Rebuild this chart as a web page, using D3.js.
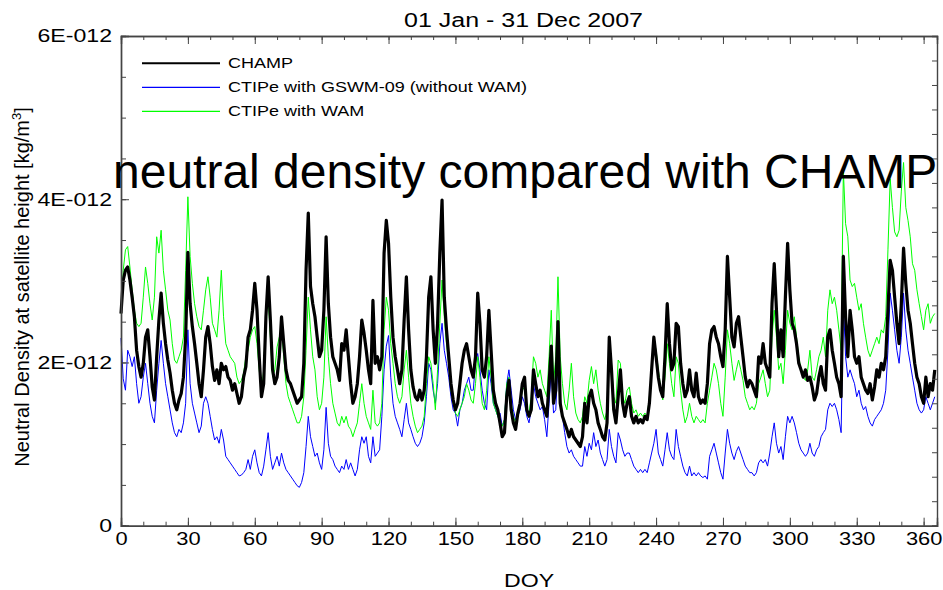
<!DOCTYPE html>
<html>
<head>
<meta charset="utf-8">
<script src="https://cdn.jsdelivr.net/npm/d3@7"></script>
<style>
  body { margin: 0; background: #fff; }
  text { font-family: "Liberation Sans", Arial, sans-serif; fill: #000; }
</style>
</head>
<body>
<svg id="chart" width="943" height="590"></svg>
<script>
// daily mean neutral density, units of 1E-012 kg/m3, DOY 0..365
var champ = [
  2.60, 3.01, 3.13, 3.17, 3.01, 2.80, 2.56, 2.15, 1.95, 1.82,
  1.99, 2.31, 2.40, 2.07, 1.70, 1.54, 2.07, 2.52, 2.85, 2.48,
  2.23, 2.03, 1.87, 1.66, 1.50, 1.42, 1.54, 1.62, 1.82, 2.31,
  3.35, 2.72, 2.44, 2.23, 1.99, 1.74, 1.58, 1.91, 2.31, 2.44,
  2.23, 1.95, 1.78, 1.91, 1.74, 1.99, 1.91, 1.95, 1.82, 1.78,
  1.66, 1.74, 1.62, 1.50, 1.58, 1.82, 1.95, 2.31, 2.40, 2.64,
  2.97, 2.64, 2.07, 1.58, 1.74, 2.56, 3.05, 2.52, 1.91, 1.74,
  1.82, 2.07, 2.56, 2.23, 1.91, 1.78, 1.74, 1.66, 1.58, 1.50,
  1.54, 1.58, 1.99, 3.13, 3.83, 2.93, 2.72, 2.56, 2.31, 2.07,
  2.15, 2.64, 3.54, 2.72, 2.31, 2.07, 1.99, 1.91, 1.78, 2.23,
  2.15, 2.40, 2.07, 1.74, 1.50, 1.58, 1.74, 2.07, 2.52, 2.36,
  2.15, 1.91, 1.74, 2.76, 1.99, 2.07, 1.91, 2.07, 3.34, 3.74,
  3.46, 2.80, 2.31, 2.07, 1.91, 1.74, 1.91, 2.52, 3.05, 2.40,
  1.91, 1.70, 1.58, 1.54, 1.66, 1.54, 1.66, 2.07, 2.80, 3.05,
  2.40, 1.99, 2.48, 3.34, 3.99, 2.80, 2.40, 2.07, 1.74, 1.54,
  1.42, 1.50, 1.74, 1.99, 2.15, 2.23, 2.07, 1.91, 1.82, 2.07,
  2.85, 2.48, 1.91, 1.82, 2.07, 2.64, 2.15, 1.66, 1.50, 1.42,
  1.26, 1.09, 1.14, 1.58, 1.78, 1.42, 1.26, 1.18, 1.38, 1.50,
  1.74, 1.82, 1.42, 1.34, 1.42, 1.91, 1.74, 1.58, 1.66, 1.50,
  1.42, 1.34, 1.74, 2.20, 1.50, 1.66, 2.50, 1.50, 1.34, 1.26,
  1.18, 1.09, 1.18, 1.09, 1.05, 1.01, 0.97, 1.09, 1.50, 1.26,
  1.58, 1.66, 1.50, 1.42, 1.26, 1.18, 1.09, 1.05, 1.26, 2.31,
  1.91, 1.42, 1.26, 1.58, 1.91, 1.50, 1.34, 1.50, 1.58, 1.34,
  1.26, 1.34, 1.26, 1.30, 1.26, 1.34, 1.30, 1.50, 1.91, 2.31,
  2.07, 1.82, 1.66, 1.58, 2.07, 2.72, 2.23, 1.91, 1.99, 2.48,
  2.44, 1.99, 1.74, 1.58, 1.66, 1.91, 1.66, 1.58, 1.87, 1.58,
  1.50, 1.54, 1.50, 1.74, 2.23, 2.40, 2.44, 2.31, 2.23, 2.07,
  1.95, 2.40, 3.30, 2.80, 2.31, 2.19, 2.48, 2.56, 2.31, 2.07,
  1.82, 1.70, 1.78, 1.74, 1.66, 1.58, 2.07, 1.99, 2.23, 1.99,
  1.91, 1.82, 2.72, 3.21, 2.64, 2.07, 2.40, 2.07, 2.80, 3.46,
  2.89, 2.48, 2.40, 2.23, 1.99, 1.91, 1.82, 1.91, 1.78, 1.82,
  1.70, 1.54, 1.62, 1.82, 1.95, 1.74, 1.66, 2.31, 2.40, 2.15,
  1.99, 1.82, 1.74, 1.58, 3.30, 2.56, 2.07, 2.64, 2.40, 2.07,
  1.99, 2.07, 1.82, 1.74, 1.66, 1.62, 1.74, 1.54, 1.70, 1.91,
  1.82, 1.99, 1.91, 2.07, 2.64, 3.25, 3.13, 2.80, 2.48, 2.23,
  2.72, 3.40, 2.97, 2.64, 2.48, 2.23, 1.99, 1.82, 1.74, 1.58,
  1.50, 1.82, 1.58, 1.74, 1.66, 1.91
];

var gswm = [
  2.30, 1.80, 1.66, 2.15, 2.07, 1.95, 2.07, 1.74, 1.50, 1.58,
  1.82, 1.99, 1.74, 1.50, 1.34, 1.26, 1.66, 1.99, 2.27, 1.99,
  1.74, 1.58, 1.42, 1.26, 1.14, 1.09, 1.18, 1.14, 1.26, 1.50,
  2.40, 1.74, 1.50, 1.38, 1.26, 1.14, 1.22, 1.50, 1.58, 1.50,
  1.34, 1.18, 1.05, 1.09, 1.01, 1.18, 1.05, 0.85, 0.81, 0.77,
  0.73, 0.69, 0.65, 0.61, 0.62, 0.65, 0.69, 0.81, 0.69, 0.85,
  0.93, 0.77, 0.65, 0.61, 0.73, 0.93, 1.14, 0.85, 0.69, 0.77,
  0.85, 0.73, 0.89, 0.77, 0.69, 0.65, 0.61, 0.57, 0.53, 0.49,
  0.47, 0.53, 0.65, 0.97, 1.34, 1.09, 0.97, 0.85, 0.89, 0.77,
  0.69, 0.93, 1.45, 1.01, 0.85, 0.81, 0.73, 0.69, 0.65, 0.73,
  0.69, 0.81, 0.69, 0.77, 0.69, 0.61, 0.69, 0.93, 1.09, 1.01,
  1.09, 0.85, 0.77, 1.09, 0.85, 0.89, 0.93, 1.34, 1.91, 2.20,
  2.33, 1.82, 1.50, 1.34, 1.26, 1.18, 1.09, 1.30, 1.50, 1.26,
  1.18, 1.09, 1.01, 0.97, 1.01, 1.09, 1.26, 1.58, 1.99, 1.91,
  1.66, 1.50, 1.74, 2.23, 2.48, 2.15, 1.99, 1.82, 1.58, 1.42,
  1.38, 1.22, 1.42, 1.50, 1.66, 1.74, 1.82, 1.66, 1.66, 1.99,
  2.11, 1.91, 1.66, 1.50, 1.42, 1.91, 1.74, 1.50, 1.42, 1.34,
  1.38, 1.22, 1.30, 1.74, 1.91, 1.66, 1.42, 1.30, 1.34, 1.42,
  1.58, 1.50, 1.34, 1.26, 1.42, 1.74, 1.58, 1.50, 1.42, 1.46,
  1.30, 1.09, 1.50, 1.91, 1.38, 1.42, 1.99, 1.58, 1.34, 1.14,
  0.97, 0.89, 0.93, 0.85, 0.81, 0.77, 0.73, 0.73, 0.97, 0.85,
  1.01, 0.93, 1.14, 0.97, 1.05, 0.89, 0.81, 0.73, 0.81, 1.18,
  0.97, 0.85, 0.77, 1.14, 1.05, 0.93, 0.85, 0.89, 0.89, 0.81,
  0.73, 0.69, 0.65, 0.69, 0.65, 0.69, 0.65, 0.77, 0.89, 1.01,
  1.18, 0.89, 0.81, 0.73, 0.93, 1.14, 0.93, 0.85, 0.81, 1.18,
  0.97, 0.85, 0.73, 0.65, 0.61, 0.73, 0.61, 0.65, 0.61, 0.65,
  0.61, 0.59, 0.61, 0.57, 0.85, 0.93, 1.01, 0.89, 0.77, 0.65,
  0.57, 0.89, 1.18, 1.01, 0.89, 0.81, 0.91, 0.97, 0.89, 0.81,
  0.73, 0.69, 0.65, 0.65, 0.61, 0.65, 0.77, 0.81, 0.77, 0.81,
  0.73, 0.89, 1.09, 1.26, 1.01, 0.89, 0.97, 0.81, 1.09, 1.34,
  1.26, 1.34, 1.26, 1.14, 1.01, 0.93, 0.89, 0.85, 0.89, 1.01,
  0.89, 0.85, 0.93, 0.97, 1.09, 1.14, 1.18, 1.42, 1.50, 1.46,
  1.50, 1.42, 1.30, 1.14, 2.76, 2.07, 1.82, 1.91, 1.82, 1.74,
  1.58, 1.66, 1.50, 1.42, 1.46, 1.34, 1.26, 1.22, 1.30, 1.34,
  1.38, 1.42, 1.50, 1.66, 2.15, 2.85, 2.64, 2.40, 2.15, 1.99,
  2.31, 2.85, 2.40, 2.15, 1.99, 1.82, 1.66, 1.50, 1.42, 1.38,
  1.42, 1.58, 1.50, 1.42, 1.50, 1.58
];

var wam = [
  2.60, 3.13, 3.38, 3.42, 3.17, 2.89, 2.64, 2.48, 2.44, 2.48,
  2.80, 3.17, 2.97, 2.72, 2.52, 2.80, 3.54, 3.34, 3.62, 3.13,
  2.89, 2.64, 2.52, 2.23, 2.03, 1.99, 2.07, 2.15, 2.31, 3.13,
  4.03, 3.30, 2.97, 2.72, 2.56, 2.44, 2.40, 2.64, 2.89, 3.05,
  2.80, 2.48, 2.40, 2.31, 2.64, 3.13, 2.56, 2.23, 2.15, 2.07,
  2.03, 1.99, 1.82, 1.74, 1.78, 1.87, 2.07, 2.15, 2.31, 2.40,
  2.44, 2.23, 1.91, 1.62, 1.91, 2.64, 2.80, 2.31, 1.82, 1.91,
  2.19, 2.31, 2.40, 2.07, 1.74, 1.58, 1.50, 1.42, 1.34, 1.26,
  1.26, 1.34, 1.58, 2.15, 2.80, 2.40, 2.07, 1.91, 1.58, 1.42,
  1.50, 1.82, 2.56, 2.07, 1.74, 1.50, 1.38, 1.26, 1.22, 1.34,
  1.26, 1.34, 1.22, 1.18, 1.09, 1.18, 1.26, 1.50, 1.74, 1.50,
  1.34, 1.26, 1.18, 1.66, 1.26, 1.22, 1.26, 1.50, 2.40, 2.80,
  2.64, 2.23, 1.99, 1.74, 1.58, 1.50, 1.58, 1.91, 2.15, 1.82,
  1.50, 1.34, 1.22, 1.14, 1.18, 1.22, 1.34, 1.74, 2.07, 1.99,
  1.74, 1.42, 1.91, 2.48, 3.01, 2.56, 2.23, 1.99, 1.66, 1.50,
  1.38, 1.34, 1.42, 1.50, 1.58, 1.74, 1.66, 1.54, 1.50, 1.74,
  2.07, 1.82, 1.50, 1.42, 1.66, 2.07, 1.82, 1.50, 1.42, 1.34,
  1.26, 1.22, 1.30, 1.74, 1.82, 1.50, 1.34, 1.26, 1.38, 1.50,
  1.66, 1.70, 1.42, 1.38, 1.58, 2.07, 1.99, 1.82, 1.91, 1.74,
  1.66, 1.58, 2.07, 2.64, 1.74, 2.07, 3.05, 2.07, 1.74, 1.50,
  1.42, 1.66, 1.99, 1.58, 1.38, 1.30, 1.26, 1.34, 1.58, 1.50,
  1.78, 1.95, 1.74, 1.91, 1.66, 1.50, 1.38, 1.30, 1.42, 2.07,
  1.99, 1.58, 1.50, 2.03, 1.99, 1.58, 1.50, 1.66, 1.70, 1.50,
  1.38, 1.42, 1.34, 1.38, 1.34, 1.38, 1.34, 1.58, 1.91, 2.27,
  2.15, 1.91, 1.70, 1.54, 1.82, 2.23, 1.99, 1.74, 1.58, 2.07,
  1.99, 1.66, 1.42, 1.26, 1.34, 1.50, 1.34, 1.26, 1.34, 1.30,
  1.26, 1.30, 1.26, 1.50, 1.66, 1.82, 1.99, 1.91, 1.74, 1.50,
  1.34, 1.82, 2.40, 2.23, 1.99, 1.78, 1.91, 2.03, 1.91, 1.78,
  1.58, 1.50, 1.42, 1.46, 1.42, 1.50, 1.74, 1.82, 1.91, 1.74,
  1.58, 1.66, 2.31, 2.64, 2.31, 1.91, 1.99, 1.74, 2.15, 2.64,
  2.48, 2.40, 2.56, 2.31, 2.07, 1.91, 1.82, 1.78, 1.91, 2.15,
  1.82, 1.78, 1.91, 2.07, 2.15, 2.31, 2.07, 2.64, 2.89, 2.72,
  2.80, 2.64, 2.40, 2.15, 4.35, 3.70, 3.54, 3.01, 2.93, 2.97,
  2.80, 2.64, 2.72, 2.48, 2.31, 2.15, 2.07, 2.15, 2.23, 2.31,
  2.23, 2.40, 2.36, 2.56, 3.38, 4.25, 3.90, 3.60, 3.54, 3.62,
  4.10, 4.45, 3.90, 3.74, 3.54, 3.21, 3.13, 2.89, 2.72, 2.56,
  2.40, 2.64, 2.72, 2.48, 2.56, 2.60
];

var seriesNames = ["CHAMP", "CTIPe with GSWM-09 (without WAM)", "CTIPe with WAM"];
var seriesColors = ["#000000", "#0000ff", "#00ff00"];
var seriesWidths = [3.2, 1, 1];
var dayTicks = [0, 30, 60, 90, 120, 150, 180, 210, 240, 270, 300, 330, 360];
var densTicks = [0, 2e-12, 4e-12, 6e-12];

var svg = d3.select("#chart");
var plotL = 121, plotR = 937, plotT = 36, plotB = 525.7;
var SX = 1.25; // plot fonts are drawn a bit wide

var x = d3.scaleLinear().domain([0, 366]).range([plotL, plotR]);
var y = d3.scaleLinear().domain([0, 6e-12]).range([plotB, plotT]);

svg.append("rect").attr("width", 943).attr("height", 590).attr("fill", "#fff");

// data lines: blue first, then green, then CHAMP on top
var line = d3.line()
    .x(function(d, i) { return x(i); })
    .y(function(d) { return y(d * 1e-12); });

[[gswm, 1], [wam, 2], [champ, 0]].forEach(function(p) {
    var idx = p[1];
    svg.append("path")
        .datum(p[0])
        .attr("d", line)
        .attr("fill", "none")
        .attr("stroke", seriesColors[idx])
        .attr("stroke-width", seriesWidths[idx])
        .attr("stroke-linejoin", "round");
});

// axes
var axisColor = "#444";
function styleAxis(g) {
    g.select(".domain").attr("stroke", axisColor).attr("stroke-width", 1.4);
    g.selectAll(".tick line").attr("stroke", axisColor).attr("stroke-width", 1);
}

var minorDays = d3.range(0, 361, 10);

svg.append("g").attr("transform", "translate(0," + plotB + ")")
    .call(d3.axisBottom(x).tickValues(minorDays).tickSize(-4).tickFormat(""))
    .call(styleAxis);
var gx = svg.append("g").attr("transform", "translate(0," + plotB + ")")
    .call(d3.axisBottom(x).tickValues(dayTicks).tickSize(-8).tickPadding(7))
    .call(styleAxis);
gx.selectAll("text")
    .attr("font-size", 17.5)
    .attr("font-family", "Liberation Sans, Arial, sans-serif")
    .attr("fill", "#000")
    .attr("transform", "scale(" + SX + ",1)");

svg.append("g").attr("transform", "translate(0," + plotT + ")")
    .call(d3.axisTop(x).tickValues(minorDays).tickSize(-4).tickFormat(""))
    .call(styleAxis);
svg.append("g").attr("transform", "translate(0," + plotT + ")")
    .call(d3.axisTop(x).tickValues(dayTicks).tickSize(-8).tickFormat(""))
    .call(styleAxis);

svg.append("g").attr("transform", "translate(" + plotL + ",0)")
    .call(d3.axisLeft(y).tickValues(d3.range(0, 6.01, 0.5).map(function(v) { return v * 1e-12; })).tickSize(-5).tickFormat(""))
    .call(styleAxis);
var gy = svg.append("g").attr("transform", "translate(" + plotL + ",0)")
    .call(d3.axisLeft(y).tickValues(densTicks).tickSize(-8)
        .tickFormat(function(v) { return v === 0 ? "0" : Math.round(v / 1e-12) + "E-012"; }))
    .call(styleAxis);
gy.selectAll("text")
    .attr("x", -9 / SX)
    .attr("font-size", 18.5)
    .attr("font-family", "Liberation Sans, Arial, sans-serif")
    .attr("fill", "#000")
    .attr("transform", "scale(" + SX + ",1)");

svg.append("g").attr("transform", "translate(" + plotR + ",0)")
    .call(d3.axisRight(y).tickValues(d3.range(0, 21).map(function(k) { return k * 0.3e-12; })).tickSize(-5).tickFormat(""))
    .call(styleAxis);

// titles
svg.append("text")
    .attr("transform", "translate(523.5,27) scale(" + SX + ",1)")
    .attr("text-anchor", "middle")
    .attr("font-size", 20)
    .text("01 Jan - 31 Dec 2007");

svg.append("text")
    .attr("transform", "translate(529,587) scale(" + SX + ",1)")
    .attr("text-anchor", "middle")
    .attr("font-size", 18.5)
    .text("DOY");

var yl = svg.append("text")
    .attr("transform", "translate(29,287) rotate(-90)")
    .attr("text-anchor", "middle")
    .attr("font-size", 20);
yl.append("tspan").text("Neutral Density at satellite height [kg/m");
yl.append("tspan").attr("font-size", 13).attr("dy", -8).text("3");
yl.append("tspan").attr("dy", 8).text("]");

// legend
var legend = svg.append("g");
seriesNames.forEach(function(name, i) {
    var ly = 63.3 + i * 24;
    legend.append("line")
        .attr("x1", 142).attr("x2", 220)
        .attr("y1", ly).attr("y2", ly)
        .attr("stroke", seriesColors[i])
        .attr("stroke-width", i === 0 ? 2 : 1.2);
    legend.append("text")
        .attr("transform", "translate(228," + (ly + 4.6) + ") scale(" + SX + ",1)")
        .attr("font-size", 14.4)
        .text(name);
});

// big caption over the plot
svg.append("text")
    .attr("x", 113)
    .attr("y", 188)
    .attr("font-size", 48)
    .text("neutral density compared with CHAMP");
</script>
</body>
</html>
